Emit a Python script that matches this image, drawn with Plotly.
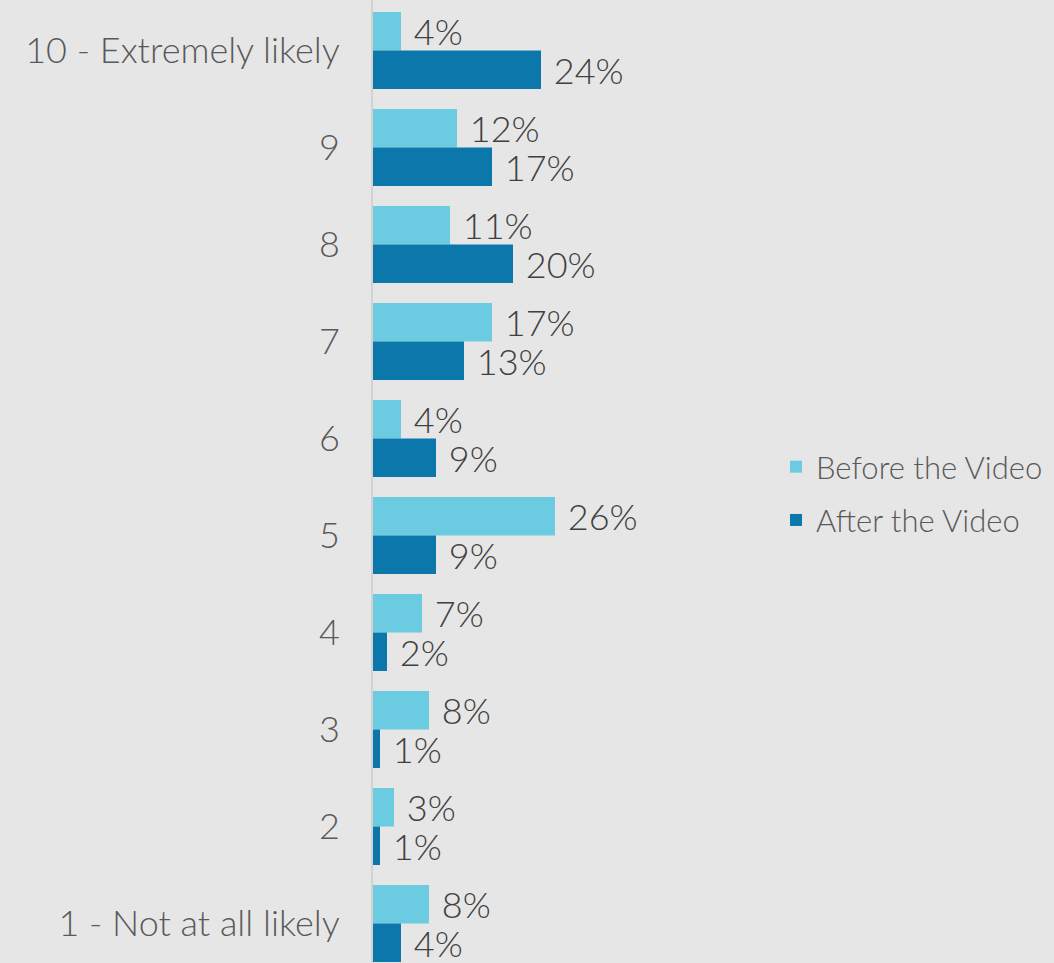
import plotly.graph_objects as go

categories = ["10 - Extremely likely", "9", "8", "7", "6", "5", "4", "3", "2", "1 - Not at all likely"]
before_vals = [4, 12, 11, 17, 4, 26, 7, 8, 3, 8]
after_vals = [24, 17, 20, 13, 9, 9, 2, 1, 1, 4]
series_names = ["Before the Video", "After the Video"]

C_BEFORE = "#6bcbe0"
C_AFTER = "#0b77ab"
BG = "#e6e6e6"
FONT = "Lato"

fig = go.Figure()
for name, vals, col in [(series_names[0], before_vals, C_BEFORE), (series_names[1], after_vals, C_AFTER)]:
    fig.add_trace(go.Bar(
        y=categories, x=vals, orientation="h", name=name,
        marker=dict(color=col, line=dict(width=0)),
        text=[f" {v}%" for v in vals], textposition="outside",
        textfont=dict(family=FONT, size=36, color="#404040", weight=300),
        constraintext="none",
        cliponaxis=False, legendgroup=name,
    ))

W, H = 1054, 963
L, R = 373, 300
plot_w = W - L - R
fig.update_layout(
    width=W, height=H,
    paper_bgcolor=BG, plot_bgcolor=BG,
    margin=dict(l=L, r=R, t=0, b=0),
    barmode="group", bargap=0.206, bargroupgap=0,
    font=dict(family=FONT, color="#595959"),
    legend=dict(x=(776 - L) / plot_w, xanchor="left", y=1 - 493.5 / H, yanchor="middle",
                font=dict(family=FONT, size=31, color="#595959", weight=300),
                bgcolor="rgba(0,0,0,0)", tracegroupgap=10),
    uniformtext=dict(mode=False),
)
fig.update_xaxes(range=[0, plot_w / 7], visible=False, fixedrange=True)
fig.update_yaxes(
    type="category", categoryorder="array", categoryarray=categories,
    range=[9.407, -0.521], showgrid=False, zeroline=False,
    showline=True, linecolor="#d2d2d2", linewidth=2,
    tickfont=dict(family=FONT, size=36, color="#595959", weight=300),
    ticks="", ticklabelstandoff=24,
)
fig.write_html("out.html", config={"displayModeBar": False},
               post_script="document.body.style.margin='0';document.body.style.background='#e6e6e6';")
